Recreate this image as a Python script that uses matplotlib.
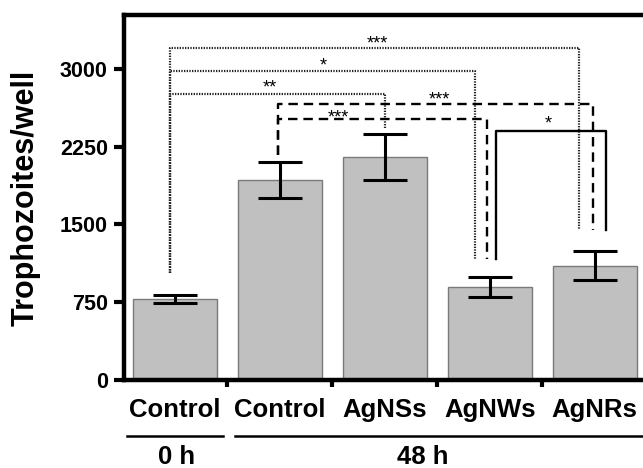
import matplotlib
matplotlib.use("Agg")
import matplotlib.pyplot as plt
import matplotlib.transforms as mtransforms

plt.rcParams['font.family'] = ['Liberation Sans', 'DejaVu Sans']
plt.rcParams['font.weight'] = 'bold'

categories = ["Control", "Control", "AgNSs", "AgNWs", "AgNRs"]
means = [780, 1929, 2151, 897, 1100]
errors = [39, 173, 222, 95, 140]
yticks = [0, 750, 1500, 2250, 3000]
ylabel = "Trophozoites/well"
groups = ["0 h", "48 h"]

# significance brackets: (x_left, x_right, y, left_bottom, right_bottom, label, style)
brackets = [
    (-0.05, 3.85, 3200, 1030, 1447, "***", "dotted"),
    (-0.05, 2.86, 2980, 1030, 1167, "*", "dotted"),
    (-0.05, 2.00, 2760, 1030, 2431, "**", "dotted"),
    (0.98, 3.985, 2662, 2170, 1447, "***", "dashed"),
    (0.98, 2.976, 2518, 2170, 1167, "***", "dashed"),
    (3.06, 4.11, 2402, 1167, 1447, "*", "solid"),
]
star_pos = [(1.93, 3309), (1.41, 3096), (0.90, 2884), (2.52, 2768), (1.56, 2595), (3.56, 2537)]

fig = plt.figure(figsize=(6.43, 4.68), dpi=100)
ax = fig.add_axes([0.1936, 0.188, 0.8064, 0.968 - 0.188])

x = list(range(len(categories)))
ax.bar(x, means, width=0.8, color="#c0c0c0", edgecolor="#7a7a7a", linewidth=1.0, zorder=2)
ax.errorbar(x, means, yerr=errors, fmt="none", ecolor="black", elinewidth=2.2,
            capsize=15.5, capthick=2.2, zorder=3)

styles = {"dotted": dict(linestyle=(0, (0.6, 0.6)), linewidth=1.6, color="#222222"),
          "dashed": dict(linestyle=(0, (4, 2.5)), linewidth=1.7, color="black"),
          "solid": dict(linestyle="-", linewidth=1.7, color="black")}
for (xl, xr, yy, lb, rb, lab, st) in brackets:
    ax.plot([xl, xl, xr, xr], [lb, yy, yy, rb], zorder=4, **styles[st])
for (lab, (sx, sy)) in zip([b[5] for b in brackets], star_pos):
    ax.text(sx, sy - 110, lab, ha="center", va="baseline", fontsize=13,
            fontweight="normal", zorder=5)

ax.set_xlim(-0.48, 4.46)
ax.set_ylim(0, 3520)
ax.set_yticks(yticks)
ax.set_yticklabels([str(t) for t in yticks], fontsize=15.5, fontweight="bold")
ax.set_ylabel(ylabel, fontsize=22, fontweight="bold", labelpad=14)

ax.set_xticks([0.5, 1.5, 2.5, 3.5])
ax.set_xticklabels([])
ax.set_xticks(x, minor=True)
ax.set_xticklabels(categories, minor=True, fontsize=18.5, fontweight="bold")
ax.tick_params(axis="x", which="major", length=5, width=3, direction="out")
ax.tick_params(axis="x", which="minor", length=0, pad=13)
ax.tick_params(axis="y", length=7, width=3, pad=5)

for s in ["left", "bottom", "top"]:
    ax.spines[s].set_linewidth(3.2)
ax.spines["right"].set_visible(False)

trans = mtransforms.blended_transform_factory(ax.transData, fig.transFigure)
yl = (468 - 436) / 468
ax.plot([-0.46, 0.46], [yl, yl], transform=trans, color="black", lw=1.8, clip_on=False)
ax.plot([0.576, 4.7], [yl, yl], transform=trans, color="black", lw=1.8, clip_on=False)
ax.text(0.02, 0.008, groups[0], transform=trans, ha="center", va="baseline",
        fontsize=18.5, fontweight="bold")
ax.text(2.36, 0.008, groups[1], transform=trans, ha="center", va="baseline",
        fontsize=18.5, fontweight="bold")

fig.savefig("out.png", dpi=100)
